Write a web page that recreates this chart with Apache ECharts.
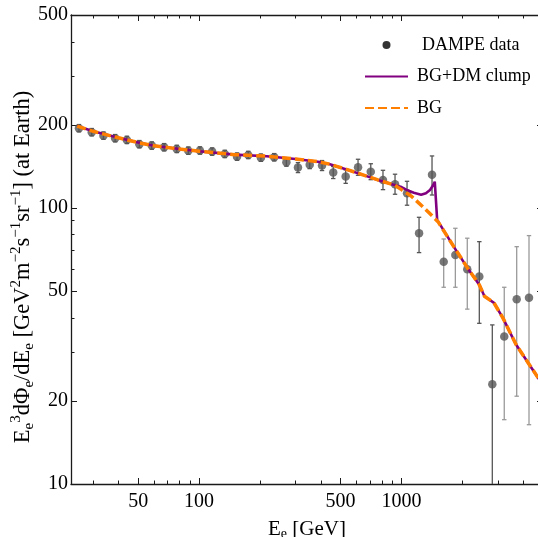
<!DOCTYPE html>
<html>
<head>
<meta charset="utf-8">
<script src="https://cdn.jsdelivr.net/npm/echarts@6/dist/echarts.min.js"></script>
<style>
html,body{margin:0;padding:0;background:#fff;}
#chart{width:538px;height:537px;}
</style>
</head>
<body>
<div id="chart"></div>
<script>
// ---------------- data ----------------
const energy = [25.5, 29.5, 33.7, 38.5, 44.0, 50.7, 58.4, 67.2, 77.6, 88.5, 101, 116, 134, 154, 175, 202, 235, 270, 308, 352, 405, 460, 530, 610, 705, 810, 929, 1065, 1221, 1415, 1616, 1845, 2113, 2423, 2809, 3218, 3707, 4264];
const flux = [194.5, 188.1, 182.8, 178.9, 176.4, 170.2, 168.2, 165.9, 163.6, 161.3, 161.5, 160.0, 156.9, 153.4, 155.6, 152.1, 152.6, 146.4, 140.0, 143.5, 142.4, 134.4, 129.9, 140.4, 135.3, 126.3, 121.9, 113.0, 80.9, 132.0, 63.9, 67.6, 60.0, 56.4, 23.0, 34.2, 46.7, 47.3];
const fluxHigh = [200.5, 194.0, 188.5, 184.5, 181.9, 175.5, 173.5, 171.1, 168.7, 166.3, 166.5, 165.0, 161.8, 158.2, 160.4, 156.8, 157.4, 151.4, 146.0, 148.4, 148.5, 141.3, 137.4, 150.1, 144.6, 136.9, 132.5, 124.9, 92.5, 154.3, 77.2, 84.4, 77.7, 75.5, 37.7, 51.6, 72.4, 79.4];
const fluxLow = [188.6, 182.4, 177.3, 173.5, 171.1, 165.1, 163.1, 160.9, 158.7, 156.4, 156.6, 155.2, 152.2, 148.8, 150.9, 147.5, 148.0, 141.6, 134.3, 138.8, 136.6, 127.8, 122.8, 131.3, 126.6, 116.5, 112.1, 102.3, 68.9, 111.4, 51.6, 51.6, 43.0, 38.2, 5.0, 17.1, 20.8, 16.4];

const bgEnergy = [25, 30, 40, 50, 60, 80, 100, 150, 216, 300, 387, 443, 545, 650, 765, 922, 1000, 1124, 1298, 1514, 1834, 2126, 2422, 2569, 2863, 3172, 3680, 4291, 5000];
const bgFlux = [198, 189.5, 179.5, 172.5, 168, 163.5, 160.5, 156, 154, 150.5, 147, 144, 137.3, 131.5, 126.3, 121, 116.5, 110, 99.7, 89.2, 71.4, 60.4, 52.7, 47.9, 45.3, 39.9, 32, 27, 22.8];

const dmEnergy = [25, 30, 40, 50, 60, 80, 100, 150, 216, 300, 387, 443, 545, 650, 765, 922, 1000, 1061, 1150, 1250, 1320, 1383, 1430, 1460, 1500, 1514, 1834, 2126, 2422, 2569, 2863, 3172, 3680, 4291, 5000];
const dmFlux = [198, 189.5, 179.5, 172.5, 168, 163.5, 160.5, 156, 154, 150.5, 147, 144, 137.3, 131.5, 126.3, 121, 119, 116.3, 113.5, 111.6, 113, 116.2, 120.5, 124.5, 90.5, 89.2, 71.4, 60.4, 52.7, 47.9, 45.3, 39.9, 32, 27, 22.8];

const xLabelTicks = [50, 100, 500, 1000];
const xMajorTicks = [50, 100, 500, 1000, 5000];
const xMinorTicks = [30, 40, 60, 70, 80, 90, 200, 300, 400, 600, 700, 800, 900, 2000, 3000, 4000];
const yMajorTicks = [10, 20, 50, 100, 200, 500];
const yMinorTicks = [30, 40, 60, 70, 80, 90, 300, 400];

// ---------------- style ----------------
const FONT = 'Liberation Serif';
const AX = '#1a1a1a';
const lightBars = [30, 31, 32, 35, 36, 37];
const xMin = 23.3, xMax = 5000, yMin = 10, yMax = 500;
const plain = v => String(v);

function xAxisDef(pos, major, withLabels, withLine) {
  return {
    type: 'log', logBase: 10, min: xMin, max: xMax, position: pos,
    axisLine: { show: withLine, lineStyle: { color: AX, width: 1.3 } },
    axisTick: { show: true, inside: true, length: major ? 6 : 3.5,
      customValues: major ? xMajorTicks : xMinorTicks, lineStyle: { color: AX, width: 1 } },
    axisLabel: { show: withLabels, customValues: xLabelTicks, formatter: plain,
      fontFamily: FONT, fontSize: 20, color: '#000', margin: 8 },
    splitLine: { show: false }, minorTick: { show: false }
  };
}
function yAxisDef(pos, major, withLabels, withLine) {
  return {
    type: 'log', logBase: 10, min: yMin, max: yMax, position: pos,
    axisLine: { show: withLine, lineStyle: { color: AX, width: 1.3 } },
    axisTick: { show: true, inside: true, length: major ? 6 : 3.5,
      customValues: major ? yMajorTicks : yMinorTicks, lineStyle: { color: AX, width: 1 } },
    axisLabel: { show: withLabels, customValues: yMajorTicks, formatter: plain,
      fontFamily: FONT, fontSize: 20, color: '#000', margin: 3 },
    splitLine: { show: false }, minorTick: { show: false }
  };
}

const xa0 = xAxisDef('bottom', true, true, true);
xa0.name = '{m|E}{s|e}{m| [GeV]}';
xa0.nameLocation = 'middle';
xa0.nameGap = 33;
xa0.nameMoveOverlap = false;
xa0.nameTextStyle = { fontFamily: FONT, color: '#000',
  rich: { m: { fontFamily: FONT, fontSize: 21, lineHeight: 24, color: '#000' },
          s: { fontFamily: FONT, fontSize: 14, lineHeight: 14, verticalAlign: 'bottom', color: '#000' } } };

const ya0 = yAxisDef('left', true, true, true);
ya0.name = '{m|E}{s|e}{p|3}{m|dΦ}{s|e}{m|/dE}{s|e}{m| [GeV}{p|2}{m|m}{p|−2}{m|s}{p|−1}{m|sr}{p|−1}{m|] (at Earth)}';
ya0.nameLocation = 'middle';
ya0.nameRotate = 90;
ya0.nameGap = 34;
ya0.nameMoveOverlap = false;
ya0.nameTextStyle = { fontFamily: FONT, color: '#000', padding: [0, 35, 0, 0],
  rich: { m: { fontFamily: FONT, fontSize: 22.5, lineHeight: 28, color: '#000' },
          s: { fontFamily: FONT, fontSize: 15, lineHeight: 15, verticalAlign: 'bottom', color: '#000' },
          p: { fontFamily: FONT, fontSize: 15, lineHeight: 15, verticalAlign: 'top', color: '#000' } } };

const chart = echarts.init(document.getElementById('chart'), null, { renderer: 'canvas' });

const hiddenSymbol = { color: 'rgba(0,0,0,0)', borderColor: 'rgba(0,0,0,0)', borderWidth: 0 };

const option = {
  animation: false,
  backgroundColor: '#fff',
  grid: { left: 71, right: -5, top: 15, bottom: 53, containLabel: false, outerBoundsMode: 'none' },
  xAxis: [
    xa0,
    xAxisDef('top', true, false, true),
    xAxisDef('bottom', false, false, false),
    xAxisDef('top', false, false, false)
  ],
  yAxis: [
    ya0,
    yAxisDef('right', true, false, true),
    yAxisDef('left', false, false, false),
    yAxisDef('right', false, false, false)
  ],
  legend: {
    orient: 'vertical', left: 364, top: 36, padding: 0,
    itemWidth: 43, itemHeight: 8, itemGap: 13.5,
    textStyle: { fontFamily: FONT, fontSize: 18, color: '#000', padding: [0, 0, 0, 4] },
    data: [
      { name: 'DAMPE data', icon: 'circle', itemStyle: { color: '#000' }, textStyle: { padding: [0, 0, 0, 9] } },
      { name: 'BG+DM clump', itemStyle: hiddenSymbol },
      { name: 'BG', itemStyle: hiddenSymbol }
    ]
  },
  series: [
    {
      name: 'errors', type: 'custom', xAxisIndex: 0, yAxisIndex: 0, z: 2, silent: true,
      data: energy.map((e, i) => [e, fluxLow[i], fluxHigh[i]]),
      encode: { x: 0, y: [1, 2] },
      renderItem: function (params, api) {
        const x = api.value(0), lo = api.value(1), hi = api.value(2);
        const top = api.coord([x, hi]);
        const bot = api.coord([x, lo]);
        const cs = params.coordSys;
        const yBottom = cs.y + cs.height;
        let by = bot[1], capB = true;
        if (by > yBottom) { by = yBottom; capB = false; }
        const color = lightBars.indexOf(params.dataIndex) >= 0 ? '#9a9a9a' : '#555';
        const st = { stroke: color, lineWidth: 1.3 };
        const ch = [
          { type: 'line', shape: { x1: top[0], y1: top[1], x2: top[0], y2: by }, style: st },
          { type: 'line', shape: { x1: top[0] - 2.2, y1: top[1], x2: top[0] + 2.2, y2: top[1] }, style: st }
        ];
        if (capB) ch.push({ type: 'line', shape: { x1: top[0] - 2.2, y1: by, x2: top[0] + 2.2, y2: by }, style: st });
        return { type: 'group', children: ch };
      }
    },
    {
      name: 'DAMPE data', type: 'scatter', xAxisIndex: 0, yAxisIndex: 0, z: 3,
      symbol: 'circle', symbolSize: 8.5,
      itemStyle: { color: '#555' },
      data: energy.map((e, i) => [e, flux[i]])
    },
    {
      name: 'BG+DM clump', type: 'line', xAxisIndex: 0, yAxisIndex: 0, z: 4,
      symbol: 'none', smooth: false,
      lineStyle: { color: '#800080', width: 2.6 },
      itemStyle: { color: '#800080' },
      data: dmEnergy.map((e, i) => [e, dmFlux[i]])
    },
    {
      name: 'BG', type: 'line', xAxisIndex: 0, yAxisIndex: 0, z: 5,
      symbol: 'none', smooth: false,
      lineStyle: { color: '#ff8000', width: 3.5, type: [9, 4] },
      itemStyle: { color: '#ff8000' },
      data: bgEnergy.map((e, i) => [e, bgFlux[i]])
    }
  ]
};
chart.setOption(option);
</script>
</body>
</html>
